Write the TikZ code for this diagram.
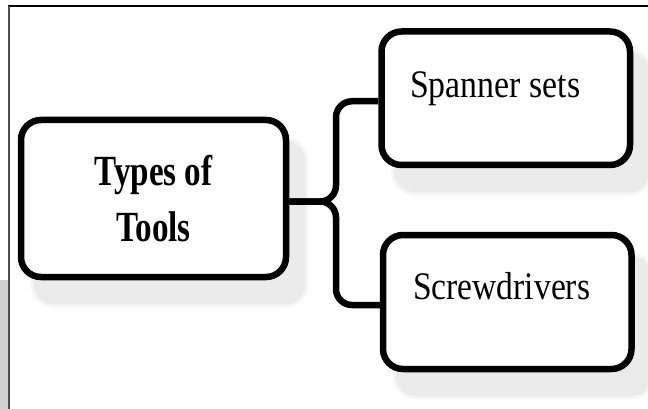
\documentclass[tikz,border=0pt]{standalone}
\usepackage{fontspec}
\setmainfont{Liberation Serif}
\usepackage{graphicx}
\usetikzlibrary{calc,backgrounds}
\begin{document}
\begin{tikzpicture}[x=1pt,y=-1pt,
  box/.style={draw=black, line width=6.5pt, rounded corners=20pt, fill=white, inner sep=0pt},
  shad/.style={fill=black!8, rounded corners=20pt},
  shadb/.style={fill=black!4, rounded corners=23pt},
  conn/.style={draw=black, line width=6.5pt, rounded corners=16pt},
  lbl/.style={inner sep=0pt, font=\fontsize{39}{47}\selectfont, anchor=base west}]
\useasboundingbox (0,0) rectangle (648,409);
% boxes
\node[box, minimum width=265pt, minimum height=157pt, align=center,
      font=\bfseries\fontsize{43}{55.3}\selectfont] (L) at (153.5,198.5)
      {\scalebox{0.77}[1]{Types of}\\\scalebox{0.77}[1]{Tools}};
\node[box, minimum width=248.5pt, minimum height=133.5pt] (S) at (505.75,98.25) {};
\node[box, minimum width=248.5pt, minimum height=134pt] (D) at (507.25,302) {};
% labels
\node[lbl, xscale=0.867] (st) at ($(S.north west)+(31.75,69.45)$) {Spanner sets};
\node[lbl, xscale=0.86] (dt) at ($(D.north west)+(33.25,67.25)$) {Screwdrivers};
% connectors
\coordinate (bus) at (336,0);
\coordinate (lout) at ([yshift=-3pt]L.east);
\coordinate (sin) at ([yshift=-3pt]S.west);
\coordinate (din) at ([yshift=-3pt]D.west);
\draw[conn] (lout) -- (lout -| bus) -- (bus |- sin) -- (sin);
\draw[conn] (lout) -- (lout -| bus) -- (bus |- din) -- (din);
% background, frame and shadows
\begin{scope}[on background layer]
  \fill[white] (0,0) rectangle (648,409);
  \fill[black!18] (0,280) rectangle (8,409);
  \foreach \n in {L,S,D}{
    \fill[shadb] ($(\n.north west)+(13,21)$) rectangle ($(\n.south east)+(19,27)$);
    \fill[shad] ($(\n.north west)+(16,24)$) rectangle ($(\n.south east)+(16,24)$);
  }
  \draw[black, line width=1.2pt] (8,6) -- (648,6);
  \draw[black!70, line width=2.2pt] (9,6) -- (9,409);
\end{scope}
\end{tikzpicture}
\end{document}
